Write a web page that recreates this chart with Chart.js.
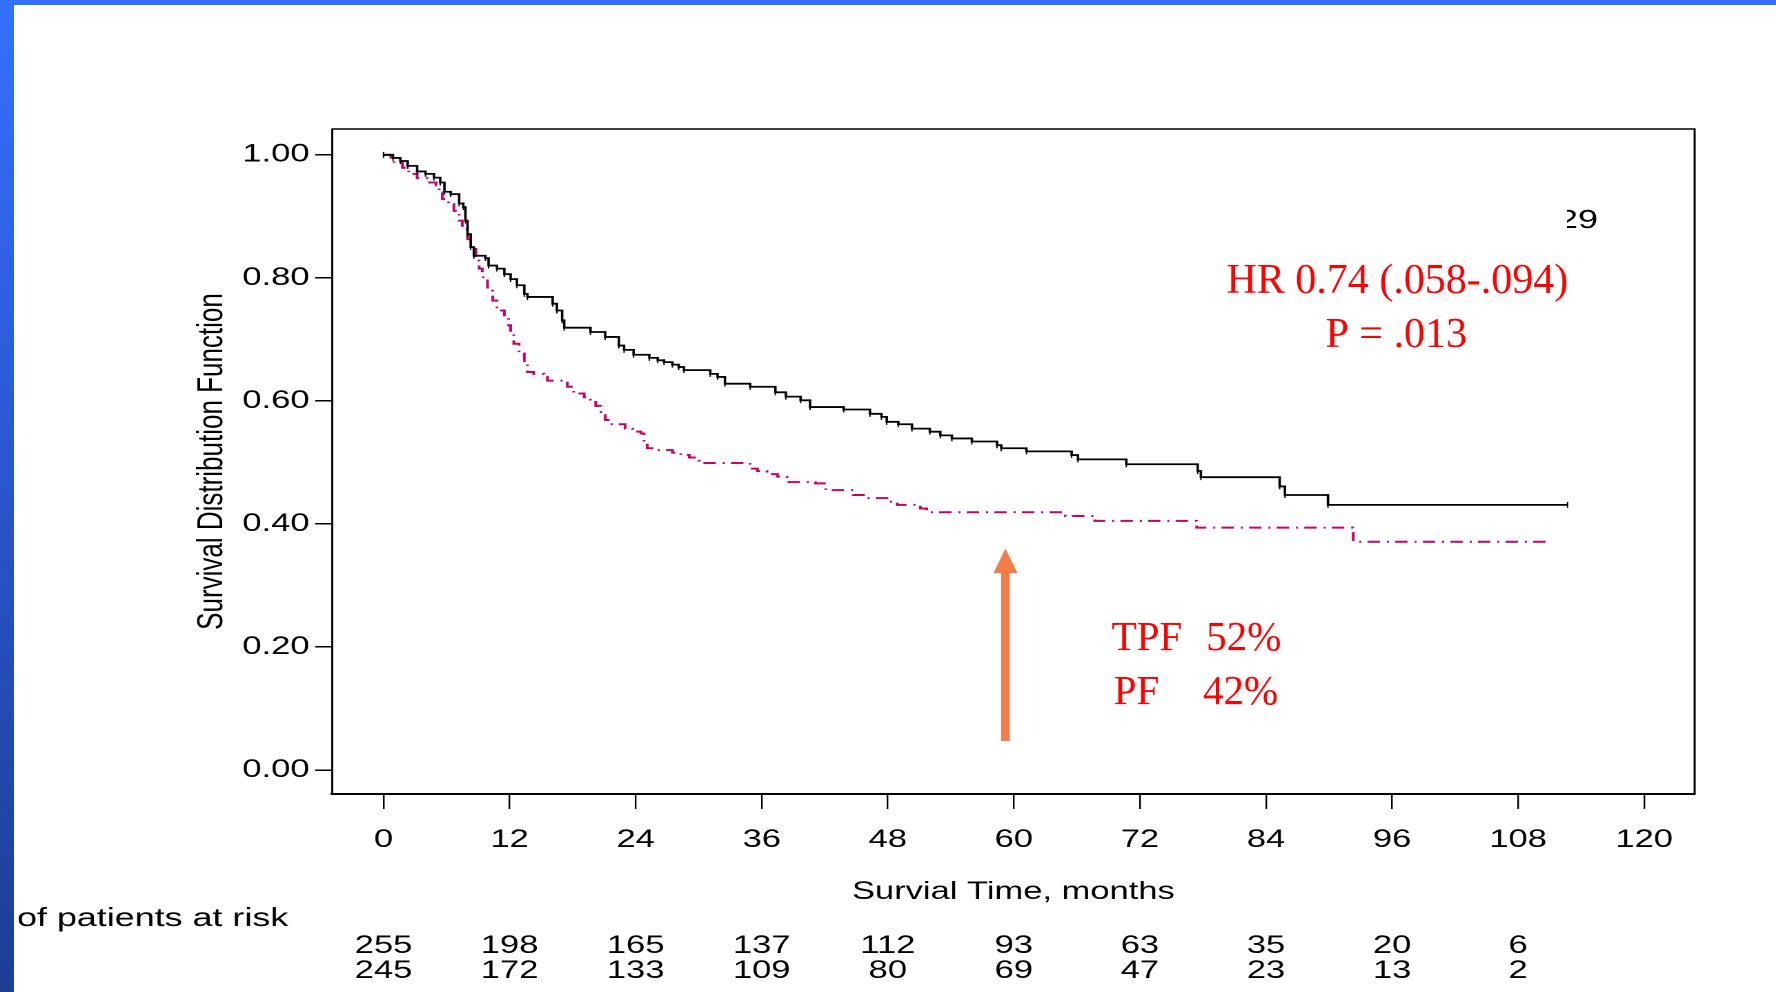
<!DOCTYPE html>
<html>
<head>
<meta charset="utf-8">
<script src="https://cdn.jsdelivr.net/npm/chart.js@4/dist/chart.umd.min.js"></script>
<style>
  html, body { margin: 0; padding: 0; background: #fff; overflow: hidden; }
  body { width: 1776px; height: 992px; position: relative; }
  /* the slide picture is stretched sideways, so the chart is drawn narrow and widened */
  #wrap { position: absolute; left: 0; top: 0; width: 1287px; height: 992px; transform: scaleX(1.38); transform-origin: 0 0; }
  #topbar { position: absolute; left: 0; top: 0; width: 1776px; height: 5px; background: #3370ff; }
  #leftbar { position: absolute; left: 0; top: 0; width: 14px; height: 992px;
    background: linear-gradient(to bottom, #3570fb 0%, #2b58d2 45%, #1d3d93 100%); }
</style>
</head>
<body>
<div id="wrap"><canvas id="myChart" width="1287" height="992"></canvas></div>
<div id="topbar"></div>
<div id="leftbar"></div>
<script>
const S = 1.38; // horizontal stretch of the whole picture

const xTicks = [0, 12, 24, 36, 48, 60, 72, 84, 96, 108, 120];
const yTicks = [0, 0.2, 0.4, 0.6, 0.8, 1.0];

// TPF arm (black, solid)
const tpfMonths = [0, 0.9, 1.6, 2.3, 3.2, 4.0, 4.8, 5.4, 5.8, 6.4, 7.2, 7.6, 7.8, 8.0, 8.3, 8.6, 9.7, 10.0, 10.8, 11.5,
  12.1, 12.7, 13.4, 13.7, 16.1, 16.5, 17.0, 17.2, 19.7, 21.1, 22.4, 22.9, 23.8, 25.3, 26.1, 26.7, 27.5, 28.1, 28.6,
  31.1, 31.8, 32.5, 34.9, 37.3, 38.3, 39.7, 40.6, 43.8, 46.3, 47.4, 47.9, 49.0, 50.3, 52.0, 53.0, 54.1, 56.0, 58.4,
  58.8, 61.2, 65.5, 66.1, 70.7, 77.5, 77.8, 85.3, 85.8, 89.9, 112.7];
const tpfSurv = [1.0, 0.995, 0.990, 0.982, 0.973, 0.969, 0.963, 0.955, 0.940, 0.936, 0.921, 0.915, 0.893, 0.871, 0.850, 0.836, 0.832, 0.820, 0.815, 0.806,
  0.798, 0.788, 0.774, 0.769, 0.758, 0.747, 0.731, 0.719, 0.712, 0.704, 0.690, 0.683, 0.675, 0.670, 0.666, 0.663, 0.659, 0.655, 0.650,
  0.644, 0.639, 0.628, 0.623, 0.614, 0.607, 0.601, 0.590, 0.586, 0.579, 0.574, 0.566, 0.562, 0.555, 0.550, 0.544, 0.539, 0.534, 0.528,
  0.523, 0.518, 0.512, 0.505, 0.497, 0.486, 0.476, 0.461, 0.447, 0.431, 0.431];

// PF arm (magenta, dash-dot)
const pfMonths = [0, 0.7, 1.0, 1.8, 2.4, 3.2, 4.2, 5.0, 5.3, 5.6, 6.2, 6.7, 7.2, 7.5, 8.0, 8.3, 8.8, 9.1, 9.4, 9.9,
  10.4, 10.8, 11.5, 11.9, 12.1, 12.4, 12.9, 13.4, 13.7, 14.3, 15.3, 15.6, 17.5, 18.1, 19.1, 19.7, 20.2, 20.7, 21.1, 21.6,
  23.0, 23.7, 24.5, 24.8, 25.1, 25.7, 27.5, 28.3, 29.1, 30.0, 30.3, 34.9, 35.6, 36.5, 37.5, 38.4, 41.1, 42.1, 44.7,
  45.9, 48.2, 48.9, 51.1, 51.7, 64.9, 67.7, 77.4, 92.3, 111.0];
const pfSurv = [1.0, 0.990, 0.987, 0.979, 0.969, 0.962, 0.955, 0.950, 0.939, 0.928, 0.920, 0.909, 0.893, 0.879, 0.863, 0.847, 0.828, 0.815, 0.801, 0.779,
  0.763, 0.747, 0.736, 0.723, 0.712, 0.693, 0.677, 0.660, 0.647, 0.644, 0.639, 0.633, 0.623, 0.612, 0.606, 0.602, 0.592, 0.582, 0.569, 0.562,
  0.555, 0.550, 0.547, 0.531, 0.523, 0.520, 0.516, 0.512, 0.508, 0.503, 0.499, 0.490, 0.486, 0.481, 0.477, 0.468, 0.466, 0.455, 0.447,
  0.442, 0.436, 0.431, 0.425, 0.419, 0.413, 0.405, 0.394, 0.371, 0.371];

// number of patients at risk, under each x tick from 0 to 108
const riskTPF = [255, 198, 165, 137, 112, 93, 63, 35, 20, 6];
const riskPF = [245, 172, 133, 109, 80, 69, 47, 23, 13, 2];

const sans = "'Liberation Sans', Arial, sans-serif";
const serif = "'Liberation Serif', 'Times New Roman', serif";

// annotations, in data units
const arrowMonth = 59.2, arrowTip = 0.36, arrowHead = 0.32, arrowBase = 0.047;

const extras = {
  id: 'extras',
  afterDraw(chart) {
    const {ctx, chartArea: a, scales: {x, y}} = chart;
    ctx.save();

    // top and right side of the frame
    ctx.strokeStyle = '#000';
    ctx.lineWidth = 1.5;
    ctx.beginPath();
    ctx.moveTo(a.left, a.top);
    ctx.lineTo(a.right, a.top);
    ctx.lineTo(a.right, a.bottom);
    ctx.stroke();

    // orange arrow
    const ax = x.getPixelForValue(arrowMonth);
    ctx.fillStyle = '#f47c4a';
    ctx.fillRect(ax - 3.1, y.getPixelForValue(arrowHead) - 1, 6.2, y.getPixelForValue(arrowBase) - y.getPixelForValue(arrowHead) + 1);
    ctx.beginPath();
    ctx.moveTo(ax, y.getPixelForValue(arrowTip));
    ctx.lineTo(ax + 8.7, y.getPixelForValue(arrowHead));
    ctx.lineTo(ax - 8.7, y.getPixelForValue(arrowHead));
    ctx.closePath();
    ctx.fill();

    // "29" left over from the original figure, partly hidden
    ctx.save();
    ctx.beginPath();
    ctx.rect(1567 / S, 190, 60, 60);
    ctx.clip();
    ctx.fillStyle = '#000';
    ctx.font = '26px ' + sans;
    ctx.textAlign = 'right';
    ctx.textBaseline = 'middle';
    ctx.fillText('29', 1598 / S, 221);
    ctx.restore();

    // patients at risk
    ctx.fillStyle = '#000';
    ctx.textBaseline = 'middle';
    ctx.textAlign = 'left';
    ctx.font = '26px ' + sans;
    ctx.fillText('of patients at risk', 17 / S, 919);
    ctx.font = '25px ' + sans;
    ctx.textAlign = 'center';
    riskTPF.forEach((n, i) => ctx.fillText(String(n), x.getPixelForValue(xTicks[i]), 946));
    riskPF.forEach((n, i) => ctx.fillText(String(n), x.getPixelForValue(xTicks[i]), 971));

    // red notes are not stretched
    ctx.scale(1 / S, 1);
    ctx.fillStyle = '#ff0000';
    ctx.textBaseline = 'alphabetic';
    ctx.font = '42px ' + serif;
    ctx.textAlign = 'center';
    ctx.fillText('HR 0.74 (.058-.094)', x.getPixelForValue(96.5) * S, y.getPixelForValue(0.7756));
    ctx.fillText('P = .013', x.getPixelForValue(96.4) * S, y.getPixelForValue(0.6878));
    ctx.font = '41px ' + serif;
    ctx.textAlign = 'left';
    ctx.fillText('TPF', x.getPixelForValue(69.3) * S, y.getPixelForValue(0.195));
    ctx.fillText('52%', x.getPixelForValue(78.3) * S, y.getPixelForValue(0.195));
    ctx.fillText('PF', x.getPixelForValue(69.5) * S, y.getPixelForValue(0.107));
    ctx.fillText('42%', x.getPixelForValue(78.0) * S, y.getPixelForValue(0.107));

    ctx.restore();
  }
};

const ctx = document.getElementById('myChart');

new Chart(ctx, {
  type: 'line',
  data: {
    datasets: [{
      label: 'TPF',
      data: tpfMonths.map((m, i) => ({x: m, y: tpfSurv[i]})),
      borderColor: '#000',
      borderWidth: 1.8,
      stepped: true,
      pointStyle: 'line',
      pointRotation: 90,
      pointRadius: 3,
      pointBorderWidth: 1,
      pointBorderColor: '#000'
    }, {
      label: 'PF',
      data: pfMonths.map((m, i) => ({x: m, y: pfSurv[i]})),
      borderColor: '#cc0066',
      borderWidth: 2,
      borderDash: [9, 5, 1.5, 4.5],
      stepped: true,
      pointRadius: 0
    }]
  },
  options: {
    responsive: false,
    animation: false,
    devicePixelRatio: 2,
    layout: {padding: {left: 138, right: 59, top: 129, bottom: 85}},
    plugins: {legend: {display: false}, tooltip: {enabled: false}},
    scales: {
      x: {
        type: 'linear',
        min: -4.9,
        max: 124.8,
        afterBuildTicks: s => { s.ticks = xTicks.map(v => ({value: v})); },
        afterFit: s => { s.height = 113; },
        grid: {drawOnChartArea: false, tickLength: 15, color: '#000', lineWidth: 1.2},
        border: {color: '#000', width: 2},
        ticks: {color: '#000', font: {family: sans, size: 25}, padding: 16, maxRotation: 0, autoSkip: false},
        title: {display: true, text: 'Survial Time, months', color: '#000', font: {family: sans, size: 25}, padding: {top: 0, bottom: 0}}
      },
      y: {
        min: -0.039,
        max: 1.042,
        afterBuildTicks: s => { s.ticks = yTicks.map(v => ({value: v})); },
        afterFit: s => { s.width = 102.6; },
        grid: {drawOnChartArea: false, tickLength: 12.3, color: '#000', lineWidth: 1.5},
        border: {color: '#000', width: 1.5},
        ticks: {color: '#000', font: {family: sans, size: 25}, padding: 4, callback: v => v.toFixed(2)},
        title: {display: true, text: 'Survival Distribution Function', color: '#000', font: {family: sans, size: 26}, padding: {top: 0, bottom: 0}}
      }
    }
  },
  plugins: [extras]
});
</script>
</body>
</html>
